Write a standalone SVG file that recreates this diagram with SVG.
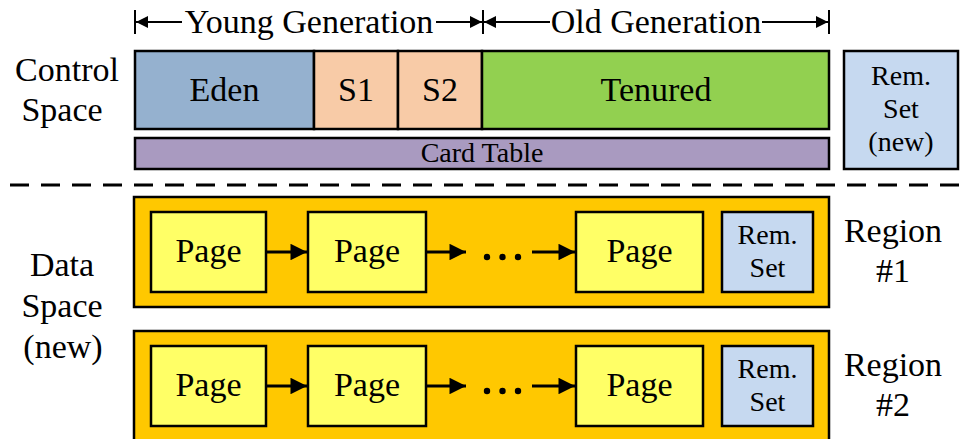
<svg xmlns="http://www.w3.org/2000/svg" width="961" height="439" viewBox="0 0 961 439">
  <defs>
    <style>
      text { font-family: "Liberation Serif", "Times New Roman", serif; fill: #000; text-anchor: middle; }
      .big { font-size: 34px; }
      .mid { font-size: 28px; }
      .box { stroke: #000; stroke-width: 2.5; }
      .link { stroke: #000; stroke-width: 3; fill: none; }
      .dim { stroke: #000; stroke-width: 2; fill: none; }
    </style>
    <marker id="arrow" viewBox="0 0 10 10" refX="10" refY="5" markerWidth="6" markerHeight="5.5" orient="auto" markerUnits="strokeWidth">
      <path d="M0,0 L10,5 L0,10 z" fill="#000"/>
    </marker>
    <marker id="dimArrow" viewBox="0 0 10 10" refX="10" refY="5" markerWidth="6" markerHeight="6" orient="auto-start-reverse" markerUnits="strokeWidth">
      <path d="M0,0 L10,5 L0,10 z" fill="#000"/>
    </marker>
  </defs>
  <rect width="961" height="439" fill="#fff"/>

  <!-- generation span markers -->
  <g id="generation-spans">
    <line class="dim" x1="135" y1="10" x2="135" y2="34"/>
    <line class="dim" x1="483" y1="10" x2="483" y2="34"/>
    <line class="dim" x1="829" y1="10" x2="829" y2="34"/>
    <line class="dim" x1="182" y1="22" x2="136" y2="22" marker-end="url(#dimArrow)"/>
    <line class="dim" x1="436" y1="22" x2="482" y2="22" marker-end="url(#dimArrow)"/>
    <line class="dim" x1="550" y1="22" x2="484" y2="22" marker-end="url(#dimArrow)"/>
    <line class="dim" x1="762" y1="22" x2="828" y2="22" marker-end="url(#dimArrow)"/>
    <text class="big" x="309" y="33">Young Generation</text>
    <text class="big" x="656" y="33">Old Generation</text>
  </g>

  <!-- side labels -->
  <g id="label-control">
    <text class="big" x="67" y="81">Control</text>
    <text class="big" x="62" y="121">Space</text>
  </g>
  <g id="label-data">
    <text class="big" x="62" y="276">Data</text>
    <text class="big" x="62" y="317">Space</text>
    <text class="big" x="63" y="358">(new)</text>
  </g>

  <!-- control space -->
  <g id="eden">
    <rect class="box" x="135" y="51" width="179" height="78" fill="#95B1CF"/>
    <text class="big" x="224.5" y="101">Eden</text>
  </g>
  <g id="s1">
    <rect class="box" x="314" y="51" width="84" height="78" fill="#F8CBA7"/>
    <text class="big" x="356" y="101">S1</text>
  </g>
  <g id="s2">
    <rect class="box" x="398" y="51" width="84" height="78" fill="#F8CBA7"/>
    <text class="big" x="440" y="101">S2</text>
  </g>
  <g id="tenured">
    <rect class="box" x="482" y="51" width="347" height="78" fill="#92D050"/>
    <text class="big" x="656" y="101">Tenured</text>
  </g>
  <g id="card-table">
    <rect class="box" x="135" y="138" width="694" height="31" fill="#A99AC0"/>
    <text class="mid" x="482" y="162">Card Table</text>
  </g>
  <g id="remset-new">
    <rect class="box" x="844" y="51" width="114" height="118" fill="#C6D9F0"/>
    <text class="mid" x="901" y="85">Rem.</text>
    <text class="mid" x="901" y="118">Set</text>
    <text class="mid" x="901" y="151">(new)</text>
  </g>

  <!-- separator -->
  <line x1="10" y1="185" x2="961" y2="185" stroke="#000" stroke-width="3" stroke-dasharray="19 12"/>

  <!-- data space, region 1 -->
  <g id="region1">
    <rect class="box" x="134" y="197" width="695" height="110" fill="#FFC800"/>
  </g>
  <g id="r1-page1">
    <rect class="box" x="151" y="212" width="115" height="80" fill="#FFFF66"/>
    <text class="big" x="208.5" y="262">Page</text>
  </g>
  <g id="r1-page2">
    <rect class="box" x="308" y="212" width="118" height="80" fill="#FFFF66"/>
    <text class="big" x="367" y="262">Page</text>
  </g>
  <g id="r1-page3">
    <rect class="box" x="576" y="212" width="127" height="80" fill="#FFFF66"/>
    <text class="big" x="639.5" y="262">Page</text>
  </g>
  <g id="r1-remset">
    <rect class="box" x="722" y="212" width="91" height="80" fill="#C6D9F0"/>
    <text class="mid" x="767.5" y="244">Rem.</text>
    <text class="mid" x="767.5" y="277">Set</text>
  </g>
  <g id="r1-label">
    <text class="big" x="893" y="242">Region</text>
    <text class="big" x="893" y="282">#1</text>
  </g>

  <!-- data space, region 2 -->
  <g id="region2">
    <rect class="box" x="134" y="331" width="695" height="112" fill="#FFC800"/>
  </g>
  <g id="r2-page1">
    <rect class="box" x="151" y="346" width="115" height="80" fill="#FFFF66"/>
    <text class="big" x="208.5" y="396">Page</text>
  </g>
  <g id="r2-page2">
    <rect class="box" x="308" y="346" width="118" height="80" fill="#FFFF66"/>
    <text class="big" x="367" y="396">Page</text>
  </g>
  <g id="r2-page3">
    <rect class="box" x="576" y="346" width="127" height="80" fill="#FFFF66"/>
    <text class="big" x="639.5" y="396">Page</text>
  </g>
  <g id="r2-remset">
    <rect class="box" x="722" y="346" width="91" height="80" fill="#C6D9F0"/>
    <text class="mid" x="767.5" y="378">Rem.</text>
    <text class="mid" x="767.5" y="411">Set</text>
  </g>
  <g id="r2-label">
    <text class="big" x="893" y="376">Region</text>
    <text class="big" x="893" y="416">#2</text>
  </g>

  <!-- page chain connectors -->
  <g id="connectors">
    <line class="link" x1="266" y1="252" x2="307" y2="252" marker-end="url(#arrow)"/>
    <line class="link" x1="426" y1="252" x2="466" y2="252" marker-end="url(#arrow)"/>
    <line class="link" x1="532" y1="252" x2="575" y2="252" marker-end="url(#arrow)"/>
    <circle cx="487" cy="257" r="3.2"/>
    <circle cx="502.5" cy="257" r="3.2"/>
    <circle cx="518" cy="257" r="3.2"/>

    <line class="link" x1="266" y1="386" x2="307" y2="386" marker-end="url(#arrow)"/>
    <line class="link" x1="426" y1="386" x2="466" y2="386" marker-end="url(#arrow)"/>
    <line class="link" x1="532" y1="386" x2="575" y2="386" marker-end="url(#arrow)"/>
    <circle cx="487" cy="391" r="3.2"/>
    <circle cx="502.5" cy="391" r="3.2"/>
    <circle cx="518" cy="391" r="3.2"/>
  </g>
</svg>
